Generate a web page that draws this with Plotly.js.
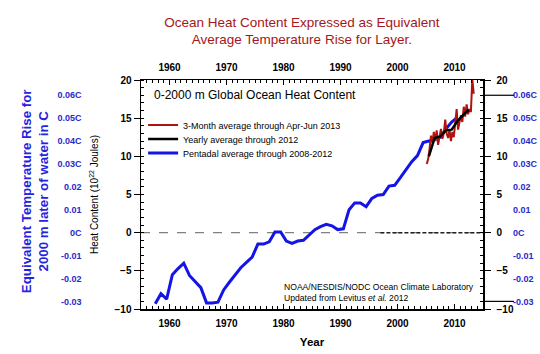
<!DOCTYPE html>
<html>
<head>
<meta charset="utf-8">
<script src="https://cdn.plot.ly/plotly-3.0.1.min.js"></script>
<style>html,body{margin:0;padding:0;background:#fff}#chart{width:540px;height:354px}</style>
</head>
<body>
<div id="chart"></div>
<script>
// Pentadal average (centre years) — 10^22 J
const pentadalYears = [1957.5,1958.5,1959.5,1960.5,1961.5,1962.5,1963.5,1964.5,1965.5,1966.5,1967.5,1968.5,1969.5,1970.5,1971.5,1972.5,1973.5,1974.5,1975.5,1976.5,1977.5,1978.5,1979.5,1980.5,1981.5,1982.5,1983.5,1984.5,1985.5,1986.5,1987.5,1988.5,1989.5,1990.5,1991.5,1992.5,1993.5,1994.5,1995.5,1996.5,1997.5,1998.5,1999.5,2000.5,2001.5,2002.5,2003.5,2004.5,2005.5,2006.5,2007.5,2008.5,2009.5,2010.5];
const pentadalValues = [-9.3,-8.0,-8.7,-5.5,-4.7,-4.0,-5.6,-6.4,-7.2,-9.2,-9.2,-9.1,-7.5,-6.5,-5.5,-4.6,-3.9,-3.2,-1.5,-1.5,-1.2,0.1,0.1,-1.1,-1.4,-1.1,-1.0,-0.3,0.4,0.8,1.1,0.9,0.4,0.5,3.0,3.9,3.9,3.4,4.5,4.9,5.0,6.1,6.2,7.2,8.3,9.3,10.1,11.8,12.0,12.2,12.5,13.6,14.5,15.1];

// Yearly average through 2012
const yearlyYears = [2005.5,2006.5,2007.5,2008.5,2009.5,2010.5,2011.5,2012.5];
const yearlyValues = [10.0,12.4,12.6,13.4,13.5,14.6,15.4,16.1];

// 3-month average through Apr-Jun 2013
const quarterYears = [2005.125,2005.375,2005.625,2005.875,2006.125,2006.375,2006.625,2006.875,2007.125,2007.375,2007.625,2007.875,2008.125,2008.375,2008.625,2008.875,2009.125,2009.375,2009.625,2009.875,2010.125,2010.375,2010.625,2010.875,2011.125,2011.375,2011.625,2011.875,2012.125,2012.375,2012.625,2012.875,2013.125,2013.375];
const quarterValues = [9.0,9.6,11.0,12.7,11.8,13.2,12.0,13.4,11.5,12.8,13.6,12.3,13.0,14.8,13.0,12.4,13.5,12.0,13.2,12.5,14.0,16.2,13.5,14.6,15.4,14.5,16.5,15.2,16.8,15.5,16.2,15.8,20.1,18.2];

// Axis ticks
const yearTicks = [1960,1970,1980,1990,2000,2010];
const heatTicks = [-10,-5,0,5,10,15,20];
const tempTickVals = [-0.03,-0.02,-0.01,0,0.01,0.02,0.03,0.04,0.05,0.06];
const tempTickText = ['-0.03','-0.02','-0.01','0C','0.01','0.02','0.03C','0.04C','0.05C','0.06C'];
const heatRange = [-10, 20];
const tempPerHeat = 0.06 / 18; // degC per 10^22 J for the 0-2000 m layer

const F = 'Liberation Sans, Arial, Helvetica, sans-serif';
const blueLab = '#2a2acc';

const traces = [
  {x: pentadalYears, y: pentadalValues, type: 'scatter', mode: 'lines', name: 'Pentadal average through 2008-2012',
   line: {color: '#1414e6', width: 3}, legend: 'legend3', xaxis: 'x', yaxis: 'y'},
  {x: quarterYears, y: quarterValues, type: 'scatter', mode: 'lines', name: '3-Month average through Apr-Jun 2013',
   line: {color: '#b01212', width: 2}, legend: 'legend', xaxis: 'x', yaxis: 'y'},
  {x: yearlyYears, y: yearlyValues, type: 'scatter', mode: 'lines', name: 'Yearly average through 2012',
   line: {color: '#000000', width: 2.5}, legend: 'legend2', xaxis: 'x', yaxis: 'y'},
  {x: [], y: [], type: 'scatter', mode: 'lines', showlegend: false, hoverinfo: 'skip', xaxis: 'x2', yaxis: 'y2'},
  {x: [], y: [], type: 'scatter', mode: 'lines', showlegend: false, hoverinfo: 'skip', xaxis: 'x', yaxis: 'y3'},
  {x: [], y: [], type: 'scatter', mode: 'lines', showlegend: false, hoverinfo: 'skip', xaxis: 'x', yaxis: 'y4'}
];

const xdom = [141/540, 483/540];
const tickFont = {family: F, size: 10, color: '#000', weight: 'bold'};
const tempFont = {family: F, size: 9, color: blueLab, weight: 'bold'};
const tempRange = [heatRange[0]*tempPerHeat, heatRange[1]*tempPerHeat];
const legFont = {family: F, size: 9, color: '#000'};
const legBase = {x: 0.265, xanchor: 'left', yanchor: 'middle', bgcolor: 'rgba(0,0,0,0)', font: legFont, itemwidth: 30, borderwidth: 0};

const layout = {
  width: 540, height: 354,
  margin: {l: 0, r: 0, t: 80, b: 45},
  paper_bgcolor: '#fff', plot_bgcolor: '#fff',
  font: {family: F, color: '#000'},
  title: {text: 'Ocean Heat Content Expressed as Equivalent<br>Average Temperature Rise for Layer.',
          x: 0.559, xanchor: 'center', y: 0.925, yanchor: 'middle', yref: 'container',
          font: {family: F, size: 13.5, color: '#a51620'}},
  showlegend: true,
  legend: Object.assign({}, legBase, {y: 0.8035}),
  legend2: Object.assign({}, legBase, {y: 0.7424}),
  legend3: Object.assign({}, legBase, {y: 0.6812}),
  xaxis: {domain: xdom, range: [1955, 2015], anchor: 'y', side: 'bottom',
          tickvals: yearTicks, ticks: 'inside', ticklen: 5, tickcolor: '#000',
          minor: {dtick: 1, ticks: 'inside', ticklen: 3, tickcolor: '#000'},
          showline: true, linecolor: '#000', linewidth: 1.5, showgrid: false, zeroline: false,
          tickfont: tickFont, ticklabelstandoff: 4,
          title: {text: 'Year', font: {family: F, size: 11.5, color: '#000', weight: 'bold'}, standoff: 10}},
  xaxis2: {overlaying: 'x', matches: 'x', range: [1955, 2015], anchor: 'y', side: 'top',
           tickvals: yearTicks, ticks: 'inside', ticklen: 5, tickcolor: '#000',
           minor: {dtick: 1, ticks: 'inside', ticklen: 3, tickcolor: '#000'},
           showline: true, linecolor: '#000', linewidth: 1.5, showgrid: false, zeroline: false,
           tickfont: tickFont, ticklabelstandoff: 4},
  yaxis: {domain: [0, 1], range: heatRange, anchor: 'x', side: 'left',
          tickvals: heatTicks, ticks: 'outside', ticklen: 6, tickcolor: '#000',
          minor: {dtick: 1, ticks: 'inside', ticklen: 3, tickcolor: '#000'},
          showline: true, linecolor: '#000', linewidth: 1.5, showgrid: false, zeroline: false,
          tickfont: tickFont,
          title: {text: 'Heat Content (10<sup>22</sup> Joules)', font: {family: F, size: 10, color: '#000'}, standoff: 14}},
  yaxis2: {overlaying: 'y', matches: 'y', range: heatRange, anchor: 'x', side: 'right',
           tickvals: heatTicks, ticks: 'outside', ticklen: 6, tickcolor: '#000',
           minor: {dtick: 1, ticks: 'inside', ticklen: 3, tickcolor: '#000'},
           showline: true, linecolor: '#000', linewidth: 1.5, showgrid: false, zeroline: false,
           tickfont: tickFont, ticklabelstandoff: 4},
  yaxis3: {overlaying: 'y', range: tempRange, anchor: 'free', position: 0.948, side: 'right',
           tickvals: tempTickVals, ticktext: tempTickText, ticks: '', showline: false,
           showgrid: false, zeroline: false, tickfont: tempFont},
  yaxis4: {overlaying: 'y', range: tempRange, anchor: 'free', position: 0.151, side: 'left',
           tickvals: tempTickVals, ticktext: tempTickText, ticks: '', showline: false,
           showgrid: false, zeroline: false, tickfont: tempFont},
  shapes: [
    {type: 'line', xref: 'x', yref: 'y', x0: 1955, x1: 2015, y0: 0, y1: 0,
     line: {color: '#808080', width: 1.3, dash: 'dash'}, layer: 'below'},
    {type: 'line', xref: 'x', yref: 'y', x0: 1997, x1: 2015, y0: 0, y1: 0,
     line: {color: '#222', width: 1.5, dash: '4px,2px'}, layer: 'below'},
    {type: 'line', xref: 'paper', yref: 'y3', x0: 483/540, x1: 514/540, y0: 0.06, y1: 0.06,
     line: {color: '#000', width: 1.2}},
    {type: 'line', xref: 'paper', yref: 'y3', x0: 483/540, x1: 514/540, y0: -0.03, y1: -0.03,
     line: {color: '#000', width: 1.2}}
  ],
  annotations: [
    {text: '0-2000 m Global Ocean Heat Content', xref: 'paper', yref: 'paper', x: 0.2815, y: 0.935,
     xanchor: 'left', yanchor: 'middle', showarrow: false, font: {family: F, size: 12, color: '#000'}},
    {text: 'NOAA/NESDIS/NODC Ocean Climate Laboratory<br>Updated from Levitus <i>et al.</i> 2012', xref: 'paper', yref: 'paper',
     x: 0.522, y: 0.07, xanchor: 'left', yanchor: 'middle', align: 'left', showarrow: false,
     font: {family: F, size: 8.6, color: '#000'}},
    {text: 'Equivalent Temperature Rise for<br>2000 m later of water in C', xref: 'paper', yref: 'paper',
     x: 0.065, y: 0.515, xanchor: 'center', yanchor: 'middle', textangle: -90, showarrow: false,
     font: {family: F, size: 13.3, color: '#2424e0', weight: 'bold'}}
  ]
};

Plotly.newPlot('chart', traces, layout, {displayModeBar: false, staticPlot: true});
</script>
</body>
</html>
